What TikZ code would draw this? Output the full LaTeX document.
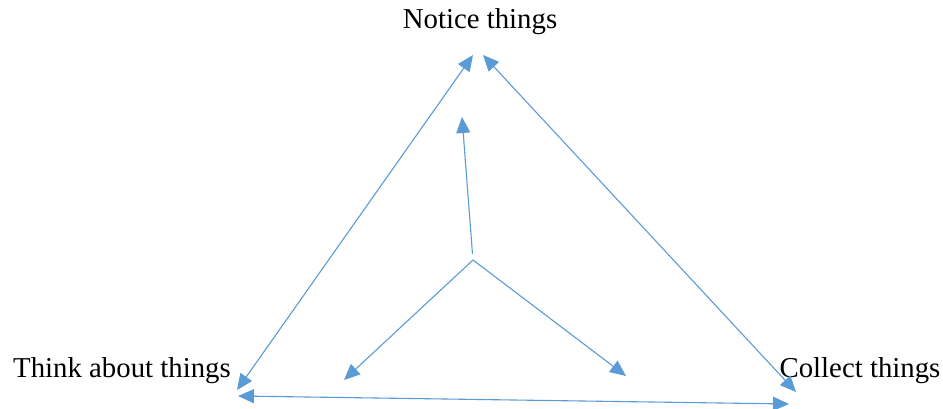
\documentclass[tikz,border=0pt]{standalone}
\usepackage{fontspec}
\setmainfont{Liberation Serif}
\usepackage{tikz}
\usetikzlibrary{arrows.meta,calc,positioning}
\definecolor{cyclue}{HTML}{5B9BD5}

\begin{document}
\begin{tikzpicture}[x=1pt,y=-1pt,
  lbl/.style={inner sep=0pt,anchor=base,font=\fontsize{28.8}{34}\selectfont},
  arr/.style={cyclue,line width=1.1pt,-{Triangle[length=16pt,width=14pt]}},
  darr/.style={cyclue,line width=1.1pt,{Triangle[length=16pt,width=14pt]}-{Triangle[length=16pt,width=14pt]}}]
\useasboundingbox (0,0) rectangle (943,409);
\node[lbl] (notice) at (480,29) {Notice things};
\node[lbl] (think) at (122,377) {Think about things};
\node[lbl] (collect) at (860,377) {Collect things};
% tips of the outer triangle
\coordinate (nl) at (473,55);
\coordinate (nr) at (483,55);
\coordinate (tu) at (237,390);
\coordinate (tb) at (238,396);
\coordinate (cu) at (796,392);
\coordinate (cb) at (789,404);
\draw[darr] (nl) -- (tu);
\draw[darr] (nr) -- (cu);
\draw[darr] (tb) -- (cb);
% inner fork
\coordinate (hub) at (473,260);
\coordinate (up) at (462,117);
\coordinate (dl) at (344,380);
\coordinate (dr) at (626,376);
\draw[arr] ($(hub)+(-0.5,-6)$) -- (up);
\draw[arr] (hub) -- (dl);
\draw[arr] (hub) -- (dr);
\end{tikzpicture}
\end{document}
